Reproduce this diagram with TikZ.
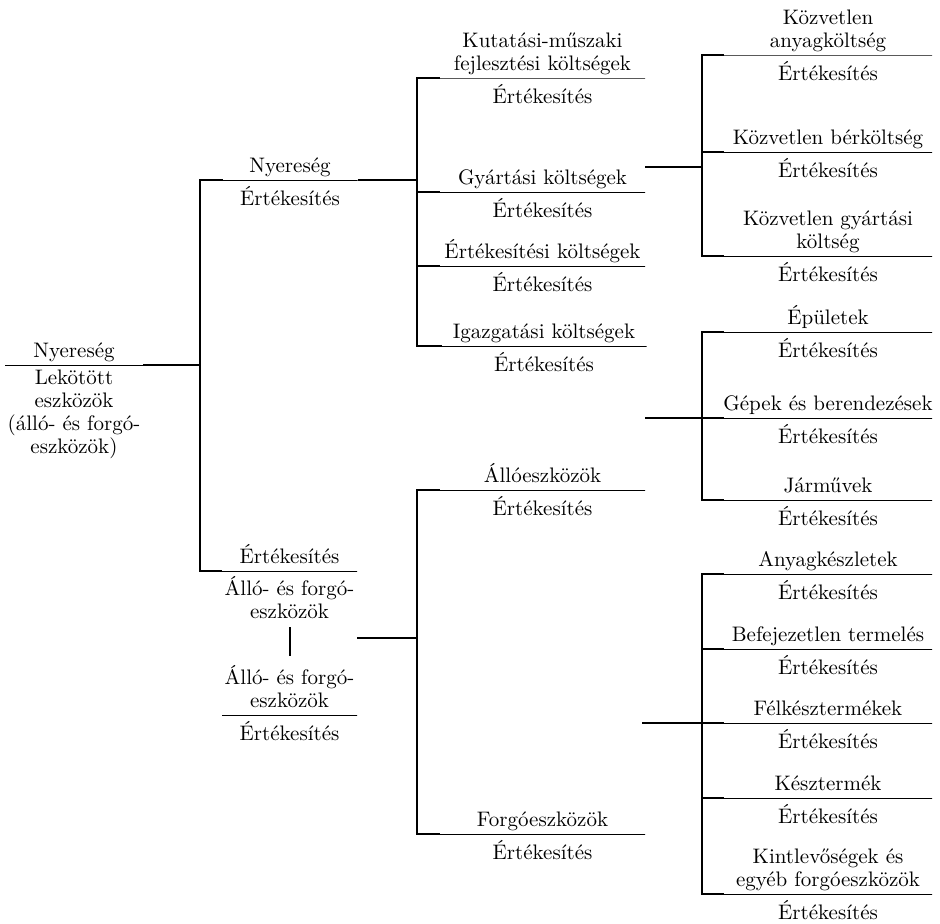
\documentclass[tikz,border=0pt]{standalone}
\usepackage{fontspec}
\usepackage{tikz}
\usetikzlibrary{positioning,calc}

\begin{document}
\begin{tikzpicture}[
  x=0.5pt, y=-0.5pt,
  font=\fontsize{10.5}{11.5}\selectfont,
  bar/.style={draw, line width=0.4pt, inner sep=0pt, outer sep=0pt, minimum height=0pt, minimum width=#1},
  bar/.default=102.5pt,
  num/.style={inner sep=0pt, align=center, above=0pt of #1, execute at end node={\rule[-3.5pt]{0pt}{3.5pt}}},
  den/.style={inner sep=0pt, align=center, below=2.5pt of #1, execute at begin node={\rule{0pt}{9.8pt}}},
  wire/.style={line width=1.3pt}
]
\useasboundingbox (0,0) rectangle (940,923);

% spines
\coordinate (spL) at (200,0);
\coordinate (spM) at (417,0);
\coordinate (spR) at (702,0);

% root ratio
\node[bar=69pt] (root) at (74,365) {};
\node[num=root] (rootN) {Nyereség};
\node[den=root] (rootD) {Lekötött\\eszközök\\(álló- és forgó-\\eszközök)};

% first level
\node[bar=67.5pt] (nyer) at (290,180) {};
\node[num=nyer] (nyerN) {Nyereség};
\node[den=nyer] (nyerD) {Értékesítés};

\node[bar=67.5pt] (ert) at (289.5,571) {};
\node[num=ert] (ertN) {Értékesítés};
\node[den=ert] (ertD) {Álló- és forgó-\\eszközök};

\node[bar=67.5pt] (aef) at (289.5,715) {};
\node[num=aef] (aefN) {Álló- és forgó-\\eszközök};
\node[den=aef] (aefD) {Értékesítés};

% second level
\node[bar] (kut) at (542.5,78) {};
\node[num=kut] (kutN) {Kutatási-műszaki\\fejlesztési költségek};
\node[den=kut] (kutD) {Értékesítés};

\node[bar] (gyar) at (542.5,192) {};
\node[num=gyar] (gyarN) {Gyártási költségek};
\node[den=gyar] (gyarD) {Értékesítés};

\node[bar] (ertk) at (542.5,266) {};
\node[num=ertk] (ertkN) {Értékesítési költségek};
\node[den=ertk] (ertkD) {Értékesítés};

\node[bar] (igaz) at (544,346) {};
\node[num=igaz] (igazN) {Igazgatási költségek};
\node[den=igaz] (igazD) {Értékesítés};

\node[bar] (allo) at (542.5,490) {};
\node[num=allo] (alloN) {Állóeszközök};
\node[den=allo] (alloD) {Értékesítés};

\node[bar] (forg) at (542.5,834) {};
\node[num=forg] (forgN) {Forgóeszközök};
\node[den=forg] (forgD) {Értékesítés};

% third level
\node[bar=104pt] (anya) at (828,55) {};
\node[num=anya] (anyaN) {Közvetlen\\anyagköltség};
\node[den=anya] (anyaD) {Értékesítés};

\node[bar=104pt] (ber) at (828,152) {};
\node[num=ber] (berN) {Közvetlen bérköltség};
\node[den=ber] (berD) {Értékesítés};

\node[bar=104pt] (gyk) at (828,256) {};
\node[num=gyk] (gykN) {Közvetlen gyártási\\költség};
\node[den=gyk] (gykD) {Értékesítés};

\node[bar=104pt] (epul) at (828,332) {};
\node[num=epul] (epulN) {Épületek};
\node[den=epul] (epulD) {Értékesítés};

\node[bar=104pt] (gep) at (828,418) {};
\node[num=gep] (gepN) {Gépek és berendezések};
\node[den=gep] (gepD) {Értékesítés};

\node[bar=104pt] (jarm) at (828,500) {};
\node[num=jarm] (jarmN) {Járművek};
\node[den=jarm] (jarmD) {Értékesítés};

\node[bar=104pt] (anyk) at (828,574) {};
\node[num=anyk] (anykN) {Anyagkészletek};
\node[den=anyk] (anykD) {Értékesítés};

\node[bar=104pt] (bef) at (828,649) {};
\node[num=bef] (befN) {Befejezetlen termelés};
\node[den=bef] (befD) {Értékesítés};

\node[bar=104pt] (felk) at (828,723) {};
\node[num=felk] (felkN) {Félkésztermékek};
\node[den=felk] (felkD) {Értékesítés};

\node[bar=104pt] (kesz) at (828,798) {};
\node[num=kesz] (keszN) {Késztermék};
\node[den=kesz] (keszD) {Értékesítés};

\node[bar=104pt] (kint) at (828,894) {};
\node[num=kint] (kintN) {Kintlevőségek és\\egyéb forgóeszközök};
\node[den=kint] (kintD) {Értékesítés};

% connector stubs
\coordinate (prodOut) at (357,638);
\coordinate (gyarOut) at (645,167);
\coordinate (alloOut) at (645,418);
\coordinate (forgOut) at (642,723);

% product sign between the two ratios
\draw[line width=1pt, shorten <=4pt, shorten >=4.5pt] (ertD.south) -- (aefN.north);

% brackets
\draw[wire] (root.east) -- (root.east -| spL);
\draw[wire] (nyer.west) -- (nyer.west -| spL) -- (ert.west -| spL) -- (ert.west);

\draw[wire] (nyer.east) -- (nyer.east -| spM);
\draw[wire] (kut.west) -- (kut.west -| spM) -- (igaz.west -| spM) -- (igaz.west);
\foreach \b in {gyar,ertk}
  \draw[wire] (\b.west -| spM) -- (\b.west);

\draw[wire] (prodOut) -- (prodOut -| spM);
\draw[wire] (allo.west) -- (allo.west -| spM) -- (forg.west -| spM) -- (forg.west);

\draw[wire] (gyarOut) -- (gyarOut -| spR);
\draw[wire] (anya.west) -- (anya.west -| spR) -- (gyk.west -| spR) -- (gyk.west);
\draw[wire] (ber.west -| spR) -- (ber.west);

\draw[wire] (alloOut) -- (alloOut -| spR);
\draw[wire] (epul.west) -- (epul.west -| spR) -- (jarm.west -| spR) -- (jarm.west);
\draw[wire] (gep.west -| spR) -- (gep.west);

\draw[wire] (forgOut) -- (forgOut -| spR);
\draw[wire] (anyk.west) -- (anyk.west -| spR) -- (kint.west -| spR) -- (kint.west);
\foreach \b in {bef,felk,kesz}
  \draw[wire] (\b.west -| spR) -- (\b.west);
\end{tikzpicture}
\end{document}
